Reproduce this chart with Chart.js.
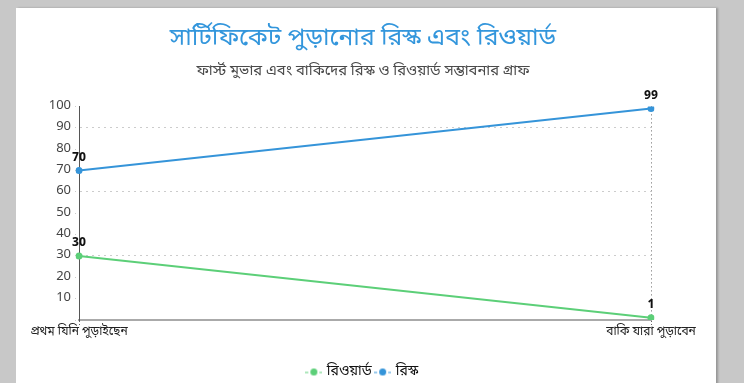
<!DOCTYPE html>
<html>
<head>
<meta charset="utf-8">
<script src="https://cdn.jsdelivr.net/npm/chart.js@4"></script>
<style>
  html, body { margin: 0; padding: 0; background: #c8c8c8; width: 744px; height: 383px; overflow: hidden; }
  #panel { position: absolute; left: 16px; top: 8px; width: 700px; height: 381px; background: #fff; box-shadow: 2px 0 2px rgba(0,0,0,0.25); }
  canvas { display: block; }
</style>
</head>
<body>
<div id="panel"><canvas id="c" width="700" height="381"></canvas></div>
<script>
const categories = ['প্রথম যিনি পুড়াইছেন', 'বাকি যারা পুড়াবেন'];
const seriesNames = ['রিওয়ার্ড', 'রিস্ক'];
const rewardValues = [30, 1];
const riskValues = [70, 99];
const seriesColors = ['#5ccf78', '#3594d9'];
const titleText = 'সার্টিফিকেট পুড়ানোর রিস্ক এবং রিওয়ার্ড';
const subtitleText = 'ফার্স্ট মুভার এবং বাকিদের রিস্ক ও রিওয়ার্ড সম্ভাবনার গ্রাফ';

const FONT = "'Noto Sans Bengali', 'Noto Sans', 'Open Sans', sans-serif";

function legendMarker(color) {
  const cv = document.createElement('canvas');
  cv.width = 17; cv.height = 9;
  const g = cv.getContext('2d');
  g.strokeStyle = color; g.lineWidth = 1;
  g.beginPath(); g.moveTo(0, 5); g.lineTo(3, 5); g.moveTo(14, 5); g.lineTo(17, 5); g.stroke();
  g.fillStyle = color;
  g.beginPath(); g.arc(8.5, 4.5, 3.5, 0, Math.PI * 2); g.fill();
  return cv;
}

const valueLabels = {
  id: 'valueLabels',
  afterDatasetsDraw(chart) {
    const ctx = chart.ctx;
    ctx.save();
    ctx.font = "bold 12px " + FONT;
    ctx.fillStyle = '#111';
    ctx.textAlign = 'center';
    ctx.textBaseline = 'bottom';
    chart.data.datasets.forEach((ds, i) => {
      const meta = chart.getDatasetMeta(i);
      meta.data.forEach((pt, j) => {
        ctx.fillText(String(ds.data[j]), pt.x, pt.y - 6);
      });
    });
    ctx.restore();
  }
};

new Chart(document.getElementById('c'), {
  type: 'line',
  data: {
    labels: categories,
    datasets: [
      { label: seriesNames[0], data: rewardValues, borderColor: seriesColors[0], backgroundColor: seriesColors[0],
        borderWidth: 2, pointRadius: 3.5, pointBorderWidth: 0, pointHoverRadius: 3.5, tension: 0 },
      { label: seriesNames[1], data: riskValues, borderColor: seriesColors[1], backgroundColor: seriesColors[1],
        borderWidth: 2, pointRadius: 3.5, pointBorderWidth: 0, pointHoverRadius: 3.5, tension: 0 }
    ]
  },
  options: {
    responsive: false,
    animation: false,
    layout: { padding: { left: 0, right: 6, top: 0, bottom: 0 } },
    plugins: {
      title: { display: true, text: titleText, color: '#3396dc', font: { family: FONT, size: 24.7, weight: 'normal' }, padding: { top: 17, bottom: 8.5 } },
      subtitle: { display: true, text: subtitleText, color: '#4a4a4a', font: { family: FONT, size: 14.8 }, padding: { top: 0, bottom: 25.5 } },
      legend: {
        position: 'bottom',
        labels: {
          usePointStyle: true, pointStyleWidth: 12, color: '#111', font: { family: FONT, size: 14 }, padding: 5,
          generateLabels(chart) {
            return chart.data.datasets.map((ds, i) => ({
              text: ds.label, fillStyle: ds.borderColor, strokeStyle: ds.borderColor, lineWidth: 0,
              pointStyle: legendMarker(ds.borderColor), datasetIndex: i, hidden: false, fontColor: '#111'
            }));
          }
        }
      },
      tooltip: { enabled: false }
    },
    scales: {
      x: {
        offset: false,
        border: { display: true, color: '#aaa', width: 2, dash: [1, 3] },
        grid: { color: '#666', tickLength: 5, tickBorderDash: [1, 2] },
        ticks: { color: '#222', font: { family: FONT, size: 12 }, padding: 0, maxRotation: 0 },
        afterFit(s) { s.height = 40; }
      },
      y: {
        min: 0, max: 100,
        border: { display: true, color: '#555', width: 1, dash: [2, 4] },
        grid: {
          color: (c) => (c.tick && c.tick.value % 30 === 0 && c.tick.value > 0) ? '#ccc' : 'rgba(0,0,0,0)',
          tickColor: '#ccc', tickLength: 4, tickBorderDash: [1, 3]
        },
        ticks: { stepSize: 10, color: '#444', font: { family: FONT, size: 13 }, padding: 4,
          callback: (v) => v === 0 ? '' : v },
        afterFit(s) { s.width = 63; }
      },
      yPad: {
        position: 'right', display: true,
        grid: { display: false, drawTicks: false }, border: { display: false },
        ticks: { display: false },
        afterFit(s) { s.width = 59; }
      }
    }
  },
  plugins: [valueLabels]
});
</script>
</body>
</html>
